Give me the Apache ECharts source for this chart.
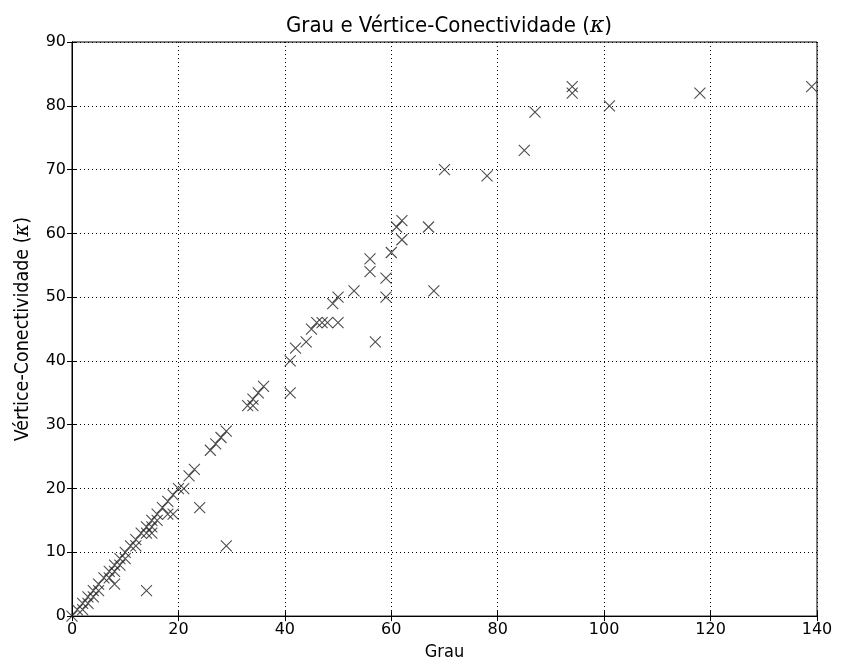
<!DOCTYPE html>
<html>
<head>
<meta charset="utf-8">
<script src="https://cdn.jsdelivr.net/npm/echarts@6/dist/echarts.min.js"></script>
<style>html,body{margin:0;padding:0;background:#fff}#c{width:841px;height:666px}</style>
</head>
<body>
<div id="c"></div>
<script>
// Grau (degree) values
const grau = [0,1,2,3,4,5,6,7,8,9,10,11,12,13,14,15,16,17,18,19,20,22,23,
  2,3,4,5,7,8,9,10,12,8,14,14,15,15,16,18,19,21,24,29,
  26,27,28,29,33,34,34,35,36,41,41,42,44,45,46,47,48,50,49,50,53,
  56,56,57,59,59,60,61,62,62,67,68,70,78,85,87,94,94,101,118,139];
// Vértice-Conectividade (kappa) values
const kappa = [0,1,2,3,4,5,6,7,8,9,10,11,12,13,14,15,16,17,18,19,20,22,23,
  1,2,3,4,6,7,8,9,11,5,4,13,13,14,15,16,16,20,17,11,
  26,27,28,29,33,33,34,35,36,40,35,42,43,45,46,46,46,46,49,50,51,
  54,56,43,50,53,57,61,62,59,61,51,70,69,73,79,82,83,80,82,83];
const xTicks = [0,20,40,60,80,100,120,140];
const yTicks = [0,10,20,30,40,50,60,70,80,90];

const points = grau.map((g,i)=>[g,kappa[i]]);
const chart = echarts.init(document.getElementById('c'));
const FONT = 'DejaVu Sans';
const COND = 'DejaVu Sans Condensed, DejaVu Sans';
const tickStyle = {show:true, inside:true, length:5, lineStyle:{color:'#000', width:1}};
const gridLine = {show:true, lineStyle:{color:'#000', type:[1,3], width:1}};
chart.setOption({
  animation:false,
  backgroundColor:'#fff',
  title:{
    text:'Grau e Vértice-Conectividade ({k|κ})',
    left:444, top:10, textAlign:'center',
    textStyle:{fontFamily:COND, fontSize:22, fontWeight:'normal', color:'#000',
      rich:{k:{fontFamily:'DejaVu Serif', fontStyle:'italic', fontSize:22, color:'#000'}}}
  },
  grid:{left:72, right:24, top:42, bottom:48, show:true, borderColor:'#000', borderWidth:1},
  xAxis:[{
    type:'value', min:xTicks[0], max:xTicks[xTicks.length-1], interval:20, position:'bottom',
    name:'Grau', nameLocation:'middle', nameGap:26,
    nameTextStyle:{fontFamily:COND, fontSize:18, color:'#000'},
    axisLine:{show:true, lineStyle:{color:'#000'}},
    axisTick:tickStyle,
    axisLabel:{fontFamily:FONT, fontSize:16, color:'#000', margin:6},
    splitLine:gridLine
  },{
    type:'value', min:xTicks[0], max:xTicks[xTicks.length-1], interval:20, position:'top',
    axisLine:{show:true, lineStyle:{color:'#000'}},
    axisTick:tickStyle, axisLabel:{show:false}, splitLine:{show:false}
  }],
  yAxis:[{
    type:'value', min:yTicks[0], max:yTicks[yTicks.length-1], interval:10, position:'left',
    name:'Vértice-Conectividade ({k|κ})', nameLocation:'middle', nameGap:39, nameRotate:90,
    nameTextStyle:{fontFamily:COND, fontSize:19.5, color:'#000',
      rich:{k:{fontFamily:'DejaVu Serif', fontStyle:'italic', fontSize:19.5, color:'#000'}}},
    axisLine:{show:true, lineStyle:{color:'#000'}},
    axisTick:tickStyle,
    axisLabel:{fontFamily:FONT, fontSize:16, color:'#000', margin:6},
    splitLine:gridLine
  },{
    type:'value', min:yTicks[0], max:yTicks[yTicks.length-1], interval:10, position:'right',
    axisLine:{show:true, lineStyle:{color:'#000'}},
    axisTick:tickStyle, axisLabel:{show:false}, splitLine:{show:false}
  }],
  series:[{
    type:'scatter',
    data:points,
    symbol:'path://M0,0L10,10M10,0L0,10',
    symbolSize:11,
    itemStyle:{color:'rgba(0,0,0,0)', borderColor:'#222', borderWidth:1.1},
    emphasis:{disabled:true},
    clip:false
  }]
});
</script>
</body>
</html>
